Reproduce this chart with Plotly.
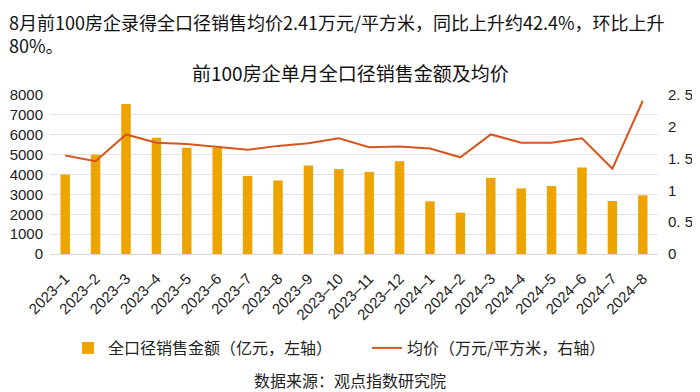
import plotly.graph_objects as go

months = ["2023-1", "2023-2", "2023-3", "2023-4", "2023-5", "2023-6", "2023-7", "2023-8",
          "2023-9", "2023-10", "2023-11", "2023-12", "2024-1", "2024-2", "2024-3", "2024-4",
          "2024-5", "2024-6", "2024-7", "2024-8"]
sales = [4000, 5000, 7550, 5850, 5350, 5350, 3930, 3700, 4450, 4270, 4130, 4670,
         2650, 2080, 3830, 3300, 3420, 4350, 2670, 2950]
price = [1.55, 1.46, 1.88, 1.75, 1.73, 1.68, 1.64, 1.70, 1.74, 1.82, 1.68, 1.69,
         1.66, 1.52, 1.88, 1.75, 1.75, 1.82, 1.34, 2.41]
month_labels = [m.replace("-", "–") for m in months]
left_ticks = [0, 1000, 2000, 3000, 4000, 5000, 6000, 7000, 8000]
right_ticks = [0, 0.5, 1, 1.5, 2, 2.5]
right_labels = ["0", "0. 5", "1", "1. 5", "2", "2. 5"]

FONT = "Liberation Sans, Noto Sans CJK SC, sans-serif"
CJK = "Noto Sans CJK SC, sans-serif"

# the page body adds an 8px margin, so the figure is laid out 8px smaller/shifted
OFF = 8
W, H = 700 - OFF, 392 - OFF
PL, PR, PT, PB = 50 - OFF, 658 - OFF, 95 - OFF, 254 - OFF
PW, PH = PR - PL, PB - PT


def px_x(x):
    return (x - OFF - PL) / PW


def px_y(y):
    return (PB - (y - OFF)) / PH


fig = go.Figure()
fig.add_trace(go.Bar(x=months, y=sales, name="全口径销售金额（亿元，左轴）",
                     marker=dict(color="#EDA300", line=dict(width=0)), yaxis="y",
                     legend="legend"))
fig.add_trace(go.Scatter(x=months, y=price, name="均价（万元/平方米，右轴）", mode="lines",
                         line=dict(color="#D5561E", width=2), yaxis="y2",
                         legend="legend2"))

leg_common = dict(orientation="h", yanchor="middle", y=px_y(348), xanchor="left",
                  font=dict(size=16, family=CJK, color="#222"), bgcolor="rgba(0,0,0,0)",
                  itemwidth=30)

fig.update_layout(
    width=W, height=H,
    margin=dict(l=PL, r=W - PR, t=PT, b=H - PB, autoexpand=False),
    paper_bgcolor="white", plot_bgcolor="white",
    bargap=0.69,
    showlegend=True,
    font=dict(family=FONT, color="#222"),
    xaxis=dict(type="category", tickangle=-45, tickvals=months, ticktext=month_labels,
               tickfont=dict(size=15, family=FONT, color="#222"), ticklabelstandoff=9,
               showgrid=False, showline=True, linecolor="#D9D9D9", ticks=""),
    yaxis=dict(range=[0, 8000], tickvals=left_ticks, showgrid=True, gridcolor="#E3E3E3",
               tickfont=dict(size=15, color="#222"), zeroline=False, ticks="",
               ticklabelstandoff=6),
    yaxis2=dict(range=[0, 2.5], tickvals=right_ticks, ticktext=right_labels, overlaying="y",
                side="right", showgrid=False, tickfont=dict(size=15, color="#222"),
                zeroline=False, ticklabelstandoff=9),
    legend=dict(x=px_x(68), **leg_common),
    legend2=dict(x=px_x(367), **leg_common),
)

fig.add_annotation(text="8月前100房企录得全口径销售均价2.41万元/平方米，同比上升约42.4%，环比上升<br>80%。",
                   xref="paper", yref="paper", x=px_x(8), y=px_y(8),
                   xanchor="left", yanchor="top", align="left", showarrow=False,
                   borderpad=0, font=dict(size=18, family=CJK, color="#111"))
fig.add_annotation(text="前100房企单月全口径销售金额及均价", xref="paper", yref="paper",
                   x=px_x(350), y=px_y(72), xanchor="center", yanchor="middle",
                   showarrow=False, font=dict(size=19, family=CJK, color="#111"))
fig.add_annotation(text="数据来源：观点指数研究院", xref="paper", yref="paper",
                   x=px_x(350), y=px_y(380), xanchor="center", yanchor="middle",
                   showarrow=False, font=dict(size=16, family=CJK, color="#222"))

fig.write_html("out.html")
